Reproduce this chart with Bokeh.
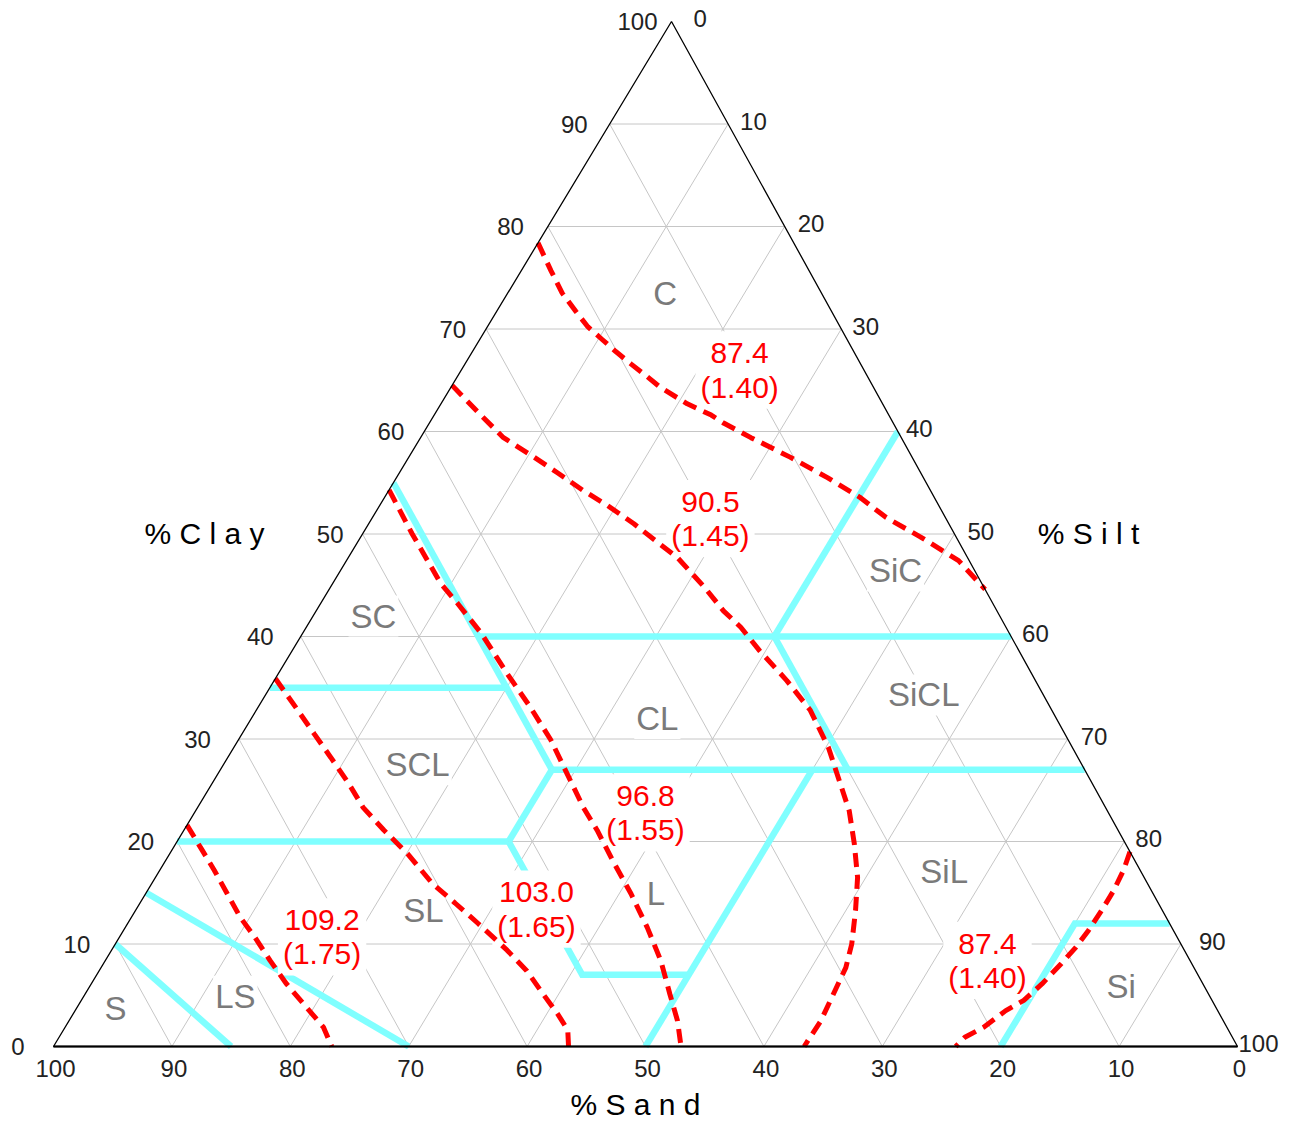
import numpy as np
from bokeh.plotting import figure
from bokeh.models import Range1d
from bokeh.embed import file_html
from bokeh.resources import INLINE
from bokeh.core.properties import value

# ---------------- data ----------------
GRID_STEPS = [10, 20, 30, 40, 50, 60, 70, 80, 90]
TICK_VALUES = [0, 10, 20, 30, 40, 50, 60, 70, 80, 90, 100]
TICK_LABELS = ["0", "10", "20", "30", "40", "50", "60", "70", "80", "90", "100"]
AXIS_TITLES = ["% C l a y", "% S i l t", "% S a n d"]

# texture classes (label positions, % clay / % silt)
CLASS_NAMES = ["C", "SiC", "SC", "SiCL", "CL", "SCL", "SiL", "SL", "L", "LS", "S", "Si"]
CLASS_CLAY = [73.5, 46.4, 42.0, 34.3, 32.0, 27.5, 17.1, 13.3, 14.9, 4.9, 3.7, 5.9]
CLASS_SILT = [13.3, 46.9, 5.1, 55.6, 34.3, 16.4, 66.3, 24.3, 43.1, 12.8, 3.3, 87.1]

# class boundaries: vertex lists of (clay, silt)
BOUND_S_LS = [(10, 0), (0, 15)]
BOUND_LS_SL = [(15, 0), (0, 30)]
BOUND_CLAY20 = [(20, 0), (20, 28)]
BOUND_SL_L = [(20, 28), (7, 41), (7, 50)]
BOUND_SILT50 = [(0, 50), (27, 50)]
BOUND_SILT28 = [(20, 28), (27, 28)]
BOUND_CLAY27 = [(27, 28), (27, 73)]
BOUND_SAND45 = [(55, 0), (27, 28)]
BOUND_CLAY35 = [(35, 0), (35, 20)]
BOUND_CLAY40 = [(40, 15), (40, 60)]
BOUND_SAND20 = [(40, 40), (27, 53)]
BOUND_SILT40 = [(40, 40), (60, 40)]
BOUND_SI = [(0, 80), (12, 80), (12, 88)]

# iso-lines (dashed red), % clay / % silt
ISO_874_TOP_CLAY = [78.4, 75.7, 73.5, 71.7, 70.2, 69.0, 67.8, 66.6, 65.5, 64.3, 62.7, 61.6, 60.8, 59.4, 57.5,
                    55.5, 53.6, 51.6, 49.7, 47.4, 44.6]
ISO_874_TOP_SILT = [0.0, 2.5, 4.6, 6.7, 8.5, 10.3, 12.1, 14.0, 15.8, 17.7, 20.8, 23.4, 24.9, 27.9, 32.2,
                    36.4, 40.1, 43.4, 47.3, 51.7, 55.4]
ISO_905_CLAY = [64.5, 61.7, 59.4, 57.7, 56.0, 54.2, 52.8, 51.0, 49.4, 47.7, 44.8, 42.5, 40.9, 38.6, 35.7, 32.8,
                29.2, 25.6, 23.0, 19.8, 16.5, 13.3, 10.0, 7.7, 5.1, 2.5, 0.0]
ISO_905_SILT = [0.0, 3.8, 7.0, 10.2, 13.3, 16.5, 19.2, 22.4, 25.0, 27.8, 31.6, 34.4, 36.7, 39.5, 43.3, 46.8,
                50.2, 53.1, 55.2, 57.3, 59.3, 60.8, 62.2, 62.9, 63.2, 63.5, 63.4]
ISO_968_CLAY = [54.3, 50.0, 45.2, 43.2, 40.3, 36.4, 33.1, 29.9, 26.6, 23.3, 21.1, 18.1, 14.9, 11.6, 8.4, 5.1, 2.5, 0.0]
ISO_968_SILT = [0.0, 4.2, 9.1, 11.6, 15.1, 19.3, 23.0, 26.4, 29.5, 32.6, 34.9, 37.8, 41.0, 44.1, 46.9, 49.4, 51.4, 53.0]
ISO_1030_CLAY = [35.9, 32.9, 30.5, 28.2, 25.6, 23.3, 21.1, 18.8, 15.9, 14.0, 12.0, 9.4, 7.4, 5.1, 3.2, 1.6, 0.0]
ISO_1030_SILT = [0.0, 3.4, 6.1, 8.7, 11.6, 14.0, 16.9, 20.1, 23.7, 26.6, 29.6, 33.4, 36.1, 38.7, 40.9, 42.6, 43.5]
ISO_1092_CLAY = [21.6, 19.4, 17.2, 14.9, 12.6, 10.7, 8.4, 6.1, 3.8, 1.9, 0.0]
ISO_1092_SILT = [0.0, 2.3, 4.6, 6.9, 9.2, 11.4, 13.9, 16.5, 19.4, 21.8, 23.5]
ISO_874_BOT_CLAY = [19.0, 17.2, 15.2, 13.3, 11.3, 9.7, 8.1, 6.1, 4.5, 3.5, 1.9, 0.9, 0.0]
ISO_874_BOT_SILT = [81.0, 81.4, 81.6, 81.6, 81.5, 81.3, 80.9, 80.3, 79.6, 78.6, 77.6, 76.5, 76.2]

ISO_LABELS = ["87.4\n(1.40)", "90.5\n(1.45)", "96.8\n(1.55)", "103.0\n(1.65)", "109.2\n(1.75)", "87.4\n(1.40)"]
ISO_LABEL_CLAY = [66.0, 51.5, 22.8, 13.4, 10.7, 8.4]
ISO_LABEL_SILT = [23.5, 28.6, 38.1, 33.8, 17.1, 74.5]

# ---------------- geometry / layout ----------------
V_CLAY = (671.0, 21.0)    # 100 % clay corner
V_SAND = (53.0, 1046.0)   # 100 % sand corner
V_SILT = (1237.0, 1046.0)  # 100 % silt corner
CLAY_LABEL_GAP = [29, 25, 23, 28, 27, 19, 20, 20, 24, 22, 14]
SILT_LABEL_GAP = [22, 12, 13, 11, 8, 13, 11, 13, 11, 18, 10]


def to_xy(clay, silt):
    c = np.asarray(clay, dtype=float) / 100.0
    t = np.asarray(silt, dtype=float) / 100.0
    s = 1.0 - c - t
    x = s * V_SAND[0] + t * V_SILT[0] + c * V_CLAY[0]
    y = s * V_SAND[1] + t * V_SILT[1] + c * V_CLAY[1]
    return list(x), list(y)


FONT = value("Liberation Sans")
W, H = 1279, 1123

p = figure(width=W, height=H, x_range=Range1d(0, W), y_range=Range1d(H, 0),
           output_backend="svg", toolbar_location=None, min_border=0)
p.xaxis.visible = False
p.yaxis.visible = False
p.xgrid.visible = False
p.ygrid.visible = False
p.outline_line_color = None
p.background_fill_color = "white"
p.border_fill_color = "white"

# grid
gxs, gys = [], []
for v in GRID_STEPS:
    for seg in ([(v, 0), (v, 100 - v)],            # constant clay
                [(0, 100 - v), (100 - v, 0)],      # constant sand
                [(0, v), (100 - v, v)]):           # constant silt
        x, y = to_xy([a for a, b in seg], [b for a, b in seg])
        gxs.append(x)
        gys.append(y)
p.multi_line(gxs, gys, line_color="#c6c6c6", line_width=1)

# class boundaries
bxs, bys = [], []
for b in [BOUND_S_LS, BOUND_LS_SL, BOUND_CLAY20, BOUND_SL_L, BOUND_SILT50, BOUND_SILT28, BOUND_CLAY27,
          BOUND_SAND45, BOUND_CLAY35, BOUND_CLAY40, BOUND_SAND20, BOUND_SILT40, BOUND_SI]:
    x, y = to_xy([a for a, b_ in b], [b_ for a, b_ in b])
    bxs.append(x)
    bys.append(y)
p.multi_line(bxs, bys, line_color="#80ffff", line_width=6.5, line_join="miter")

# class labels
cx, cy = to_xy(CLASS_CLAY, CLASS_SILT)
p.text(cx, cy, text=CLASS_NAMES, text_font=FONT, text_font_size="33px", text_color="#7a7a7a",
       text_align="center", text_baseline="middle", background_fill_color="white", padding=2)

# iso-line labels
lx, ly = to_xy(ISO_LABEL_CLAY, ISO_LABEL_SILT)
p.text(lx, ly, text=ISO_LABELS, text_font=FONT, text_font_size="30px", text_color="#ff0000",
       text_align="center", text_baseline="middle", text_line_height=1.04,
       background_fill_color="white", padding=5)

# iso-lines
ixs, iys = [], []
for cc, ss in [(ISO_874_TOP_CLAY, ISO_874_TOP_SILT), (ISO_905_CLAY, ISO_905_SILT),
               (ISO_968_CLAY, ISO_968_SILT), (ISO_1030_CLAY, ISO_1030_SILT),
               (ISO_1092_CLAY, ISO_1092_SILT), (ISO_874_BOT_CLAY, ISO_874_BOT_SILT)]:
    x, y = to_xy(cc, ss)
    ixs.append(x)
    iys.append(y)
p.multi_line(ixs, iys, line_color="#ff0000", line_width=5, line_dash="14 8")

# triangle outline
tx, ty = to_xy([100, 0, 0, 100], [0, 0, 100, 0])
p.line(tx, ty, line_color="black", line_width=1.3)
bx, by = to_xy([0, 0], [0, 100])
p.line(bx, by, line_color="black", line_width=2)

# tick labels
zero = [0] * len(TICK_VALUES)
TICK_STYLE = dict(text_font=FONT, text_font_size="24px", text_color="#222222", text_baseline="middle")
# clay (left edge): clay v, silt 0
kx, ky = to_xy(TICK_VALUES, zero)
p.text([x - g for x, g in zip(kx, CLAY_LABEL_GAP)], ky, text=TICK_LABELS, text_align="right", **TICK_STYLE)
# silt (right edge): silt v, clay 100 - v ; the last one is kept inside the canvas
kx, ky = to_xy([100 - v for v in TICK_VALUES], TICK_VALUES)
p.text([x + g for x, g in zip(kx[:-1], SILT_LABEL_GAP[:-1])], [y - 3 for y in ky[:-1]],
       text=TICK_LABELS[:-1], text_align="left", **TICK_STYLE)
p.text([W - 1], [ky[-1] - 3], text=[TICK_LABELS[-1]], text_align="right", **TICK_STYLE)
# sand (base): sand v, silt 100 - v
kx, ky = to_xy(zero, [100 - v for v in TICK_VALUES])
p.text([x + 2 for x in kx], [y + 22 for y in ky], text=TICK_LABELS, text_align="center", **TICK_STYLE)

# axis titles
mlx, mly = to_xy([50], [0])
mrx, mry = to_xy([50], [50])
mbx, mby = to_xy([0], [50])
p.text([mlx[0] - 158, mrx[0] + 134], [mly[0] - 1, mry[0] - 1],
       text=AXIS_TITLES[:2], text_font=FONT, text_font_size="30px", text_color="black",
       text_align="center", text_baseline="middle")
p.text([mbx[0] - 10], [H - 3], text=[AXIS_TITLES[2]], text_font=FONT, text_font_size="30px",
       text_color="black", text_align="center", text_baseline="bottom")

open("out.html", "w").write(file_html(p, INLINE))
